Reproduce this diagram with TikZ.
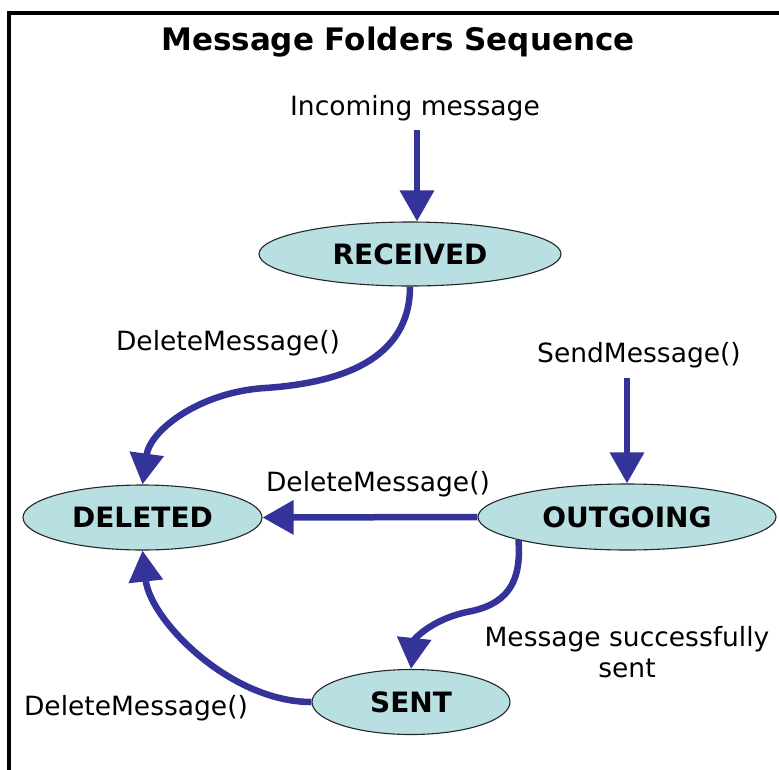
\documentclass[tikz,border=0pt]{standalone}
\usepackage{fontspec}
\setmainfont{DejaVu Sans}
\usetikzlibrary{arrows.meta,shapes.geometric}
\definecolor{arrowblue}{RGB}{51,51,153}
\definecolor{statefill}{RGB}{184,224,227}
\tikzset{
  statenode/.style={ellipse, draw=black!85, line width=1.1pt, fill=statefill, inner sep=0pt,
    font=\bfseries\fontsize{28}{32}\selectfont},
  lbl/.style={font=\fontsize{26.5}{31}\selectfont, inner sep=0pt},
  flow/.style={draw=arrowblue, line width=6.5pt, -{Triangle[width=33pt,length=31pt]}, fill=none},
}
\begin{document}
\begin{tikzpicture}[x=1pt,y=-1pt]
\useasboundingbox (0,0) rectangle (779,769);
% frame
\draw[line width=3.5pt, black] (9,780) -- (9,13) -- (790,13);
% title
\node[font=\bfseries\fontsize{31}{36}\selectfont, inner sep=0pt] (title) at (398,42) {Message Folders Sequence};
% states
\node[statenode, minimum width=302pt, minimum height=64pt] (R) at (410,254) {RECEIVED};
\node[statenode, minimum width=239pt, minimum height=65pt] (D) at (142.5,517.5) {DELETED};
\node[statenode, minimum width=298pt, minimum height=66pt] (O) at (627,517) {OUTGOING};
\node[statenode, minimum width=198pt, minimum height=65pt] (S) at (411,702) {SENT};
% labels
\node[lbl] (inc) at (415,108) {Incoming message};
\node[lbl] (del1) at (228,343) {DeleteMessage()};
\node[lbl] (send) at (639,355) {SendMessage()};
\node[lbl] (del2) at (378,484) {DeleteMessage()};
\node[lbl, align=center] (succ) at (627,652) {Message successfully\\sent};
\node[lbl] (del3) at (136,708) {DeleteMessage()};
% free ends
\coordinate (incstart) at (417,130);
\coordinate (sendstart) at (627,378);
% connectors
\draw[flow] (incstart) -- (R.north -| incstart);
\draw[flow] (sendstart) -- (O.north -| sendstart);
\draw[flow] (O.west) -- (D.east);
\draw[flow] (R.south) .. controls (410,360) and (340,383) .. (265,388)
                      .. controls (200,392) and (150,430) .. (D.north);
\draw[flow] (O.192) .. controls (522,585) and (505,605) .. (467,612)
                    .. controls (430,620) and (414,640) .. (S.north);
\draw[flow] (S.west) .. controls (230,702) and (150,620) .. (D.south);
\end{tikzpicture}
\end{document}
